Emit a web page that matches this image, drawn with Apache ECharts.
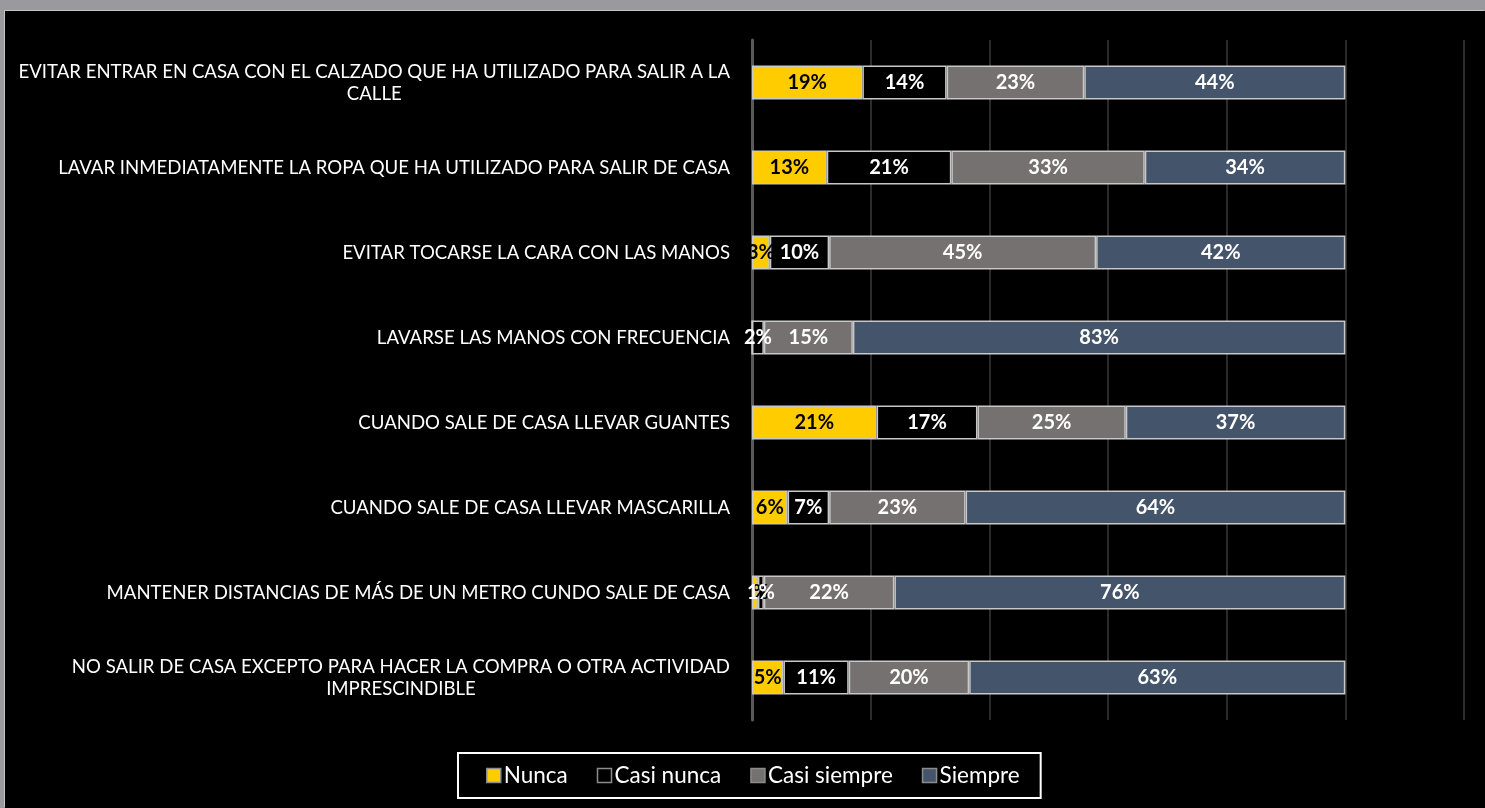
<!DOCTYPE html>
<html>
<head>
<meta charset="utf-8">
<script src="https://cdn.jsdelivr.net/npm/echarts@6/dist/echarts.min.js"></script>
<style>
  html, body { margin: 0; padding: 0; background: #9a9a9e; width: 1485px; height: 808px; overflow: hidden; }
  #chart {
    position: absolute; left: 5px; top: 11px; width: 1480px; height: 797px;
    background: #000; box-shadow: -1px -1px 0 #c4c4c6;
  }
</style>
</head>
<body>
<div id="chart"></div>
<script>
  // categories, top to bottom
  const categories = [
    'EVITAR ENTRAR EN CASA CON EL CALZADO QUE HA UTILIZADO PARA SALIR A LA\nCALLE',
    'LAVAR INMEDIATAMENTE LA ROPA QUE HA UTILIZADO PARA SALIR DE CASA',
    'EVITAR TOCARSE LA CARA CON LAS MANOS',
    'LAVARSE LAS MANOS CON FRECUENCIA',
    'CUANDO SALE DE CASA LLEVAR GUANTES',
    'CUANDO SALE DE CASA LLEVAR MASCARILLA',
    'MANTENER DISTANCIAS DE MÁS DE UN METRO CUNDO SALE DE CASA',
    'NO SALIR DE CASA EXCEPTO PARA HACER LA COMPRA O OTRA ACTIVIDAD\nIMPRESCINDIBLE'
  ]
  const seriesNames = ['Nunca', 'Casi nunca', 'Casi siempre', 'Siempre']
  // percentages (labels show them rounded)
  const nunca = [18.6, 12.6, 3, 0, 21, 6, 1, 5.3]
  const casiNunca = [14.2, 21.0, 10, 2, 17, 7, 1, 11.0]
  const casiSiempre = [23.2, 32.6, 45, 15, 25, 23, 22, 20.3]
  const siempre = [44.0, 33.8, 42, 83, 37, 64, 76, 63.4]

  const colors = ['#ffcc00', '#000000', '#767171', '#44546a']
  const labelColors = ['#000000', '#ffffff', '#ffffff', '#ffffff']
  const values = [nunca, casiNunca, casiSiempre, siempre]

  const chart = echarts.init(document.getElementById('chart'))

  const series = seriesNames.map((name, i) => ({
    name: name,
    type: 'bar',
    stack: 'total',
    barWidth: '40%',
    data: values[i],
    itemStyle: {
      color: colors[i],
      borderColor: '#c8c8c8',
      borderWidth: 1.5
    },
    label: {
      show: true,
      position: 'inside',
      color: labelColors[i],
      textBorderWidth: 0,
      fontFamily: 'Lato',
      fontWeight: 'bold',
      fontSize: 20,
      formatter: p => (p.value > 0 ? Math.round(p.value) + '%' : '')
    }
  }))

  chart.setOption({
    animation: false,
    backgroundColor: '#000',
    grid: {
      left: 747,
      right: 21,
      top: 29,
      bottom: 88,
      containLabel: false,
      outerBoundsMode: 'none'
    },
    legend: {
      left: 453,
      bottom: 10,
      padding: [11, 21, 11, 28],
      borderColor: '#ffffff',
      borderWidth: 2,
      itemWidth: 14,
      itemHeight: 14,
      itemGap: 29,
      icon: 'rect',
      textStyle: {
        color: '#ffffff',
        fontFamily: 'Lato',
        fontSize: 22.5,
        padding: [0, 0, 0, -2]
      },
      itemStyle: { borderColor: '#8c8c8c', borderWidth: 1.5 },
      data: seriesNames
    },
    xAxis: {
      type: 'value',
      min: 0,
      max: 120,
      interval: 20,
      axisLine: { show: false },
      axisTick: { show: false },
      axisLabel: { show: false },
      splitLine: { lineStyle: { color: '#3a3a3a', width: 1.5 } }
    },
    yAxis: {
      type: 'category',
      inverse: true,
      data: categories,
      axisTick: { show: false },
      axisLine: { lineStyle: { color: '#595959', width: 3 } },
      axisLabel: {
        margin: 22,
        color: '#ffffff',
        fontFamily: 'Lato',
        fontSize: 18.6,
        lineHeight: 22,
        formatter: v => {
          const lines = v.split('\n')
          if (lines.length === 1) return v
          return lines.map(l => '{c|' + l + '}').join('\n')
        },
        rich: {
          c: {
            align: 'center',
            color: '#ffffff',
            fontFamily: 'Lato',
            fontSize: 18.6,
            lineHeight: 22
          }
        }
      }
    },
    series: series
  })
</script>
</body>
</html>
